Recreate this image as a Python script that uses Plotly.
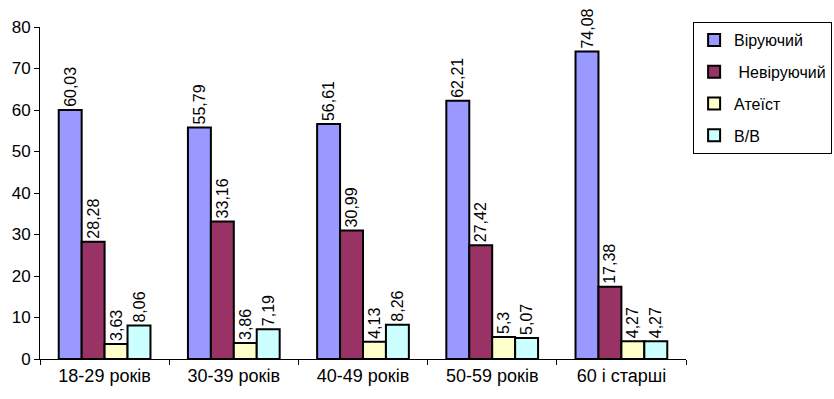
import plotly.graph_objects as go

categories = ["18-29 років", "30-39 років", "40-49 років", "50-59 років", "60 і старші"]
series_names = ["Віруючий", " Невіруючий", "Атеїст", "В/В"]
believer = [60.03, 55.79, 56.61, 62.21, 74.08]
nonbeliever = [28.28, 33.16, 30.99, 27.42, 17.38]
atheist = [3.63, 3.86, 4.13, 5.3, 4.27]
undecided = [8.06, 7.19, 8.26, 5.07, 4.27]
colors = ["#9999FF", "#993366", "#FFFFCC", "#CCFFFF"]
y_ticks = [0, 10, 20, 30, 40, 50, 60, 70, 80]

FONT = "Liberation Sans, Arial, sans-serif"

def fmt(v):
    s = ("%.2f" % v).rstrip("0").rstrip(".")
    return s.replace(".", ",")

fig = go.Figure()
for i, (name, vals) in enumerate(zip(series_names, [believer, nonbeliever, atheist, undecided])):
    fig.add_trace(go.Bar(
        x=categories, y=vals, name=name,
        marker=dict(color=colors[i], line=dict(color="black", width=2)),
        text=[fmt(v) for v in vals], textposition="outside", textangle=-90,
        textfont=dict(family=FONT, size=16, color="black"),
        cliponaxis=False, legendgroup=str(i),
    ))

fig.update_layout(
    width=834, height=399,
    margin=dict(l=40, r=148, t=27, b=40, autoexpand=False),
    paper_bgcolor="white", plot_bgcolor="white",
    barmode="group", bargap=0.29, bargroupgap=0,
    font=dict(family=FONT, size=16, color="black"),
    showlegend=True,
    legend=dict(x=1.011, y=1.015, xanchor="left", yanchor="top",
                bordercolor="black", borderwidth=1, bgcolor="white",
                font=dict(family=FONT, size=16, color="black"),
                tracegroupgap=8, itemwidth=30),
    uniformtext=dict(minsize=16, mode="show"),
)
fig.update_yaxes(range=[0, 80], tickvals=y_ticks, showline=True, linecolor="black", linewidth=1,
                 ticks="outside", ticklen=5, tickcolor="black", showgrid=False, zeroline=False,
                 automargin=False, tickfont=dict(family=FONT, size=17))
fig.update_xaxes(showline=True, linecolor="black", linewidth=1, ticks="outside", tickson="boundaries",
                 ticklen=5, tickcolor="black", showgrid=False, automargin=False,
                 tickfont=dict(family=FONT, size=18))

fig.write_html("out.html", config={"displayModeBar": False},
               post_script="document.body.style.margin='0';document.body.style.overflow='hidden';")
